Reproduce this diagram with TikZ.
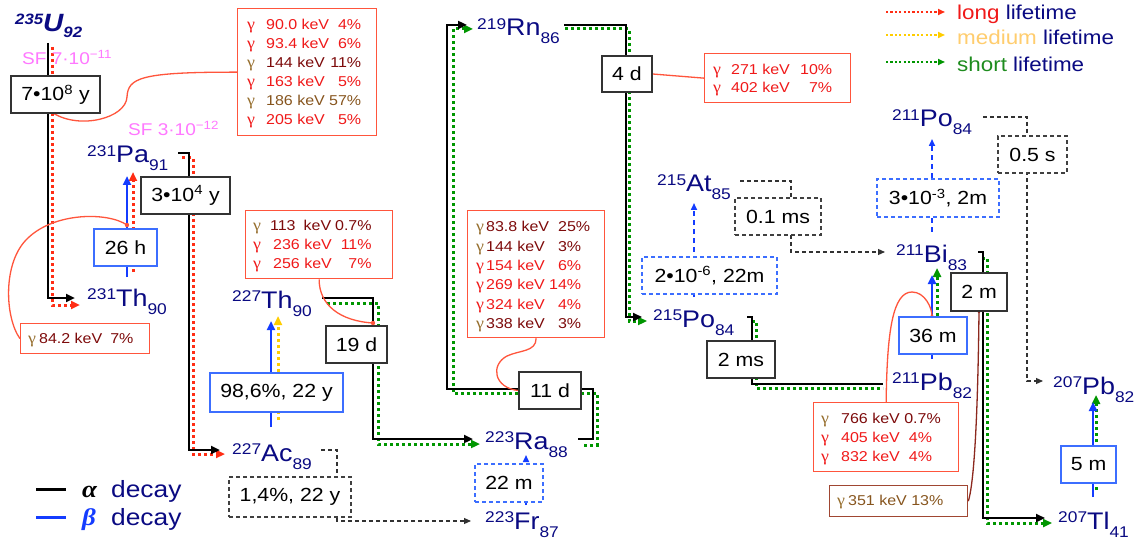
\documentclass[tikz,border=0pt]{standalone}
\usepackage{fontspec}
\setmainfont{Liberation Sans}[FakeStretch=1.12]
\newfontfamily\gfont{Liberation Serif}[FakeStretch=1.12]
\usetikzlibrary{arrows.meta}
\pgfdeclarelayer{bg}
\pgfdeclarelayer{mid}
\pgfsetlayers{bg,mid,main}

\definecolor{nblue}{RGB}{10,10,130}
\definecolor{lred}{RGB}{255,45,20}
\definecolor{lyel}{RGB}{255,205,0}
\definecolor{lgreen}{RGB}{0,150,0}
\definecolor{bblue}{RGB}{20,60,255}
\definecolor{boxblue}{RGB}{60,110,255}
\definecolor{gborder}{RGB}{255,85,60}
\definecolor{gred}{RGB}{240,25,25}
\definecolor{dred}{RGB}{125,10,10}
\definecolor{gbrown}{RGB}{150,110,45}
\definecolor{tbrown}{RGB}{135,85,30}
\definecolor{sfpink}{RGB}{255,120,255}
\definecolor{medorange}{RGB}{255,205,110}
\definecolor{sgreen}{RGB}{30,140,30}
\definecolor{bordbrown}{RGB}{160,70,50}
\definecolor{curvbrown}{RGB}{140,40,30}
\definecolor{dgray}{RGB}{50,50,50}

\newcommand\nucl[3]{\raisebox{6.5pt}{\fontsize{15.5}{16}\selectfont #1}\fontsize{24}{28}\selectfont #2\raisebox{-8pt}{\fontsize{15.5}{16}\selectfont #3}}
\newcommand\gam[1]{{\color{#1}\gfont\fontsize{16}{16}\selectfont γ}}
\newcommand\hf{\fontsize{19}{22}\selectfont}
\newcommand\gf{\fontsize{14.3}{19}\selectfont}

\tikzset{
 nuc/.style={anchor=base west, inner sep=0pt, text=nblue},
 hbox/.style={draw=black!80, line width=1.4pt, fill=white, inner sep=0pt, font=\hf},
 blbox/.style={hbox, draw=boxblue},
 dhbox/.style={hbox, draw=black!75, dash pattern=on 4pt off 3pt},
 dblbox/.style={hbox, draw=boxblue, dash pattern=on 4pt off 3pt},
 gbox/.style={draw=gborder, line width=1.3pt, fill=white, anchor=north west, inner sep=0pt},
 gtext/.style={anchor=base west, inner sep=0pt, font=\gf},
 alph/.style={line width=2.8pt, draw=black},
 tipbg/.style={-{Triangle[length=9pt,width=8pt]}},
 tipsm/.style={-{Triangle[length=7pt,width=6pt]}},
 lifet/.style={line width=3pt, dash pattern=on 3pt off 3pt},
 longl/.style={lifet, draw=lred},
 medl/.style={lifet, draw=lyel},
 shortl/.style={lifet, draw=lgreen},
 betal/.style={line width=2.8pt, draw=bblue},
 gdash/.style={line width=1.1pt, draw=dgray, dash pattern=on 4pt off 3pt},
 dbeta/.style={line width=1.6pt, draw=bblue, dash pattern=on 5pt off 4pt},
 gcurve/.style={line width=1.3pt, draw=gborder},
 lbl/.style={anchor=base west, inner sep=0pt},
}

\begin{document}
\begin{tikzpicture}[x=1pt,y=-1pt]
\useasboundingbox (0,0) rectangle (1143,540);

% ---------- nuclides ----------
\node[nuc, font=\bfseries\itshape] (U235) at (15,32) {\raisebox{7pt}{\fontsize{15}{16}\selectfont 235}\fontsize{25}{28}\selectfont U\raisebox{-6pt}{\fontsize{15}{16}\selectfont 92}};
\node[nuc] (Pa231) at (87,163) {\nucl{231}{Pa}{91}};
\node[nuc] (Th231) at (87,306) {\nucl{231}{Th}{90}};
\node[nuc] (Th227) at (232,308) {\nucl{227}{Th}{90}};
\node[nuc] (Ac227) at (232,461) {\nucl{227}{Ac}{89}};
\node[nuc] (Ra223) at (485,449) {\nucl{223}{Ra}{88}};
\node[nuc] (Fr223) at (485,529) {\nucl{223}{Fr}{87}};
\node[nuc] (Rn219) at (477,36) {\nucl{219}{Rn}{86}};
\node[nuc] (At215) at (657,192) {\nucl{215}{At}{85}};
\node[nuc] (Po215) at (653,327) {\nucl{215}{Po}{84}};
\node[nuc] (Pb211) at (892,390) {\nucl{211}{Pb}{82}};
\node[nuc] (Bi211) at (896,262) {\nucl{211}{Bi}{83}};
\node[nuc] (Po211) at (892,127) {\nucl{211}{Po}{84}};
\node[nuc] (Pb207) at (1053,394) {\nucl{207}{Pb}{82}};
\node[nuc] (Tl207) at (1058,529) {\nucl{207}{Tl}{41}};

% ---------- SF labels ----------
\node[lbl, text=sfpink, font=\fontsize{17}{20}\selectfont] (SF1) at (22,65) {SF 7·10\textsuperscript{−11}};
\node[lbl, text=sfpink, font=\fontsize{17}{20}\selectfont] (SF2) at (128,136) {SF 3·10\textsuperscript{−12}};

% ---------- half-life boxes ----------
\node[hbox, minimum width=89pt, minimum height=37pt] (hU) at (55.5,94.5) {7•10\textsuperscript{8} y};
\node[hbox, minimum width=89pt, minimum height=37pt] (hPa) at (185.5,195.5) {3•10\textsuperscript{4} y};
\node[blbox, minimum width=63pt, minimum height=37pt] (hTh231) at (125.5,247.5) {26 h};
\node[hbox, minimum width=61pt, minimum height=37pt] (hTh227) at (356.5,344.5) {19 d};
\node[blbox, minimum width=133pt, minimum height=39pt] (hAc) at (276.5,392.5) {98,6\%, 22 y};
\node[dhbox, minimum width=122pt, minimum height=40pt] (hAc2) at (290,497) {1,4\%, 22 y};
\node[hbox, minimum width=62pt, minimum height=37pt] (hRa) at (550,390.5) {11 d};
\node[dblbox, minimum width=68pt, minimum height=38pt] (hFr) at (509,483) {22 m};
\node[hbox, minimum width=50pt, minimum height=36pt] (hRn) at (627,74) {4 d};
\node[dhbox, minimum width=86pt, minimum height=37pt] (hAt) at (778,216.5) {0.1 ms};
\node[dblbox, minimum width=135pt, minimum height=37pt] (hPo215b) at (709.5,275.5) {2•10\textsuperscript{-6}, 22m};
\node[hbox, minimum width=68pt, minimum height=37pt] (hPo215) at (741,359.5) {2 ms};
\node[blbox, minimum width=68pt, minimum height=37pt] (hPb211) at (933,335.5) {36 m};
\node[hbox, minimum width=56pt, minimum height=38pt] (hBi) at (979,292) {2 m};
\node[dblbox, minimum width=122pt, minimum height=38pt] (hBib) at (938,198) {3•10\textsuperscript{-3}, 2m};
\node[dhbox, minimum width=69pt, minimum height=37pt] (hPo211) at (1032.5,154.5) {0.5 s};
\node[blbox, minimum width=55pt, minimum height=37pt] (hTl) at (1088.5,464.5) {5 m};

% ---------- gamma boxes ----------
\node[gbox, minimum width=139pt, minimum height=127pt] (G1) at (237,8) {};
\node[gtext] (G1t) at (247,30) {\begin{tabular}[t]{@{}l@{\hskip 11pt}p{63pt}@{}r@{}}
\gam{gred} & \textcolor{gred}{90.0 keV} & \textcolor{gred}{4\%} \\
\gam{gred} & \textcolor{gred}{93.4 keV} & \textcolor{gred}{6\%} \\
\gam{gbrown} & \textcolor{dred}{144 keV} & \textcolor{dred}{11\%} \\
\gam{gred} & \textcolor{gred}{163 keV} & \textcolor{gred}{5\%} \\
\gam{gbrown} & \textcolor{tbrown}{186 keV} & \textcolor{tbrown}{57\%} \\
\gam{gred} & \textcolor{gred}{205 keV} & \textcolor{gred}{5\%}
\end{tabular}};

\node[gbox, minimum width=129pt, minimum height=30pt] (G2) at (20,323) {};
\node[gtext] (G2t) at (28,343) {\gam{gbrown}\hskip 3pt\textcolor{dred}{84.2 keV\hskip 8pt 7\%}};

\node[gbox, minimum width=147pt, minimum height=68pt] (G3) at (245,210) {};
\node[gtext] (G3t) at (253,231) {\begin{tabular}[t]{@{}l@{\hskip 9pt}p{65pt}@{}r@{}}
\gam{gbrown} & \textcolor{dred}{113\hskip 8pt keV} & \textcolor{dred}{0.7\%} \\
\gam{gred} & \textcolor{gred}{\hskip 3pt 236 keV} & \textcolor{gred}{11\%} \\
\gam{gred} & \textcolor{gred}{\hskip 3pt 256 keV} & \textcolor{gred}{7\%}
\end{tabular}};

\node[gbox, minimum width=146pt, minimum height=49pt] (G4) at (704,53) {};
\node[gtext, font=\fontsize{14.3}{18}\selectfont] (G4t) at (713,75) {\begin{tabular}[t]{@{}l@{\hskip 10pt}p{69pt}@{}r@{}}
\gam{gred} & \textcolor{gred}{271 keV} & \textcolor{gred}{10\%} \\
\gam{gred} & \textcolor{gred}{402 keV} & \textcolor{gred}{7\%}
\end{tabular}};

\node[gbox, minimum width=137pt, minimum height=127pt] (G5) at (467,210) {};
\node[gtext, font=\fontsize{14.3}{19.3}\selectfont] (G5t) at (476,232) {\begin{tabular}[t]{@{}l@{\hskip 2pt}p{63pt}@{}r@{}}
\gam{gbrown} & \textcolor{dred}{83.8 keV} & \textcolor{dred}{25\%}\kern -9pt \\
\gam{gbrown} & \textcolor{dred}{144 keV} & \textcolor{dred}{3\%} \\
\gam{gred} & \textcolor{gred}{154 keV} & \textcolor{gred}{6\%} \\
\gam{gred} & \textcolor{gred}{269 keV} & \textcolor{gred}{14\%} \\
\gam{gred} & \textcolor{gred}{324 keV} & \textcolor{gred}{4\%} \\
\gam{gbrown} & \textcolor{dred}{338 keV} & \textcolor{dred}{3\%}
\end{tabular}};

\node[gbox, minimum width=145pt, minimum height=69pt] (G6) at (813,402) {};
\node[gtext] (G6t) at (821,423) {\begin{tabular}[t]{@{}l@{\hskip 12pt}l@{}}
\gam{gbrown} & \textcolor{dred}{766 keV 0.7\%} \\
\gam{gred} & \textcolor{gred}{405 keV\hskip 9pt 4\%} \\
\gam{gred} & \textcolor{gred}{832 keV\hskip 9pt 4\%}
\end{tabular}};

\node[gbox, draw=bordbrown, minimum width=138pt, minimum height=31pt] (G7) at (829,485) {};
\node[gtext] (G7t) at (837,505) {\gam{gbrown}\hskip 3pt\textcolor{tbrown}{351 keV 13\%}};

% ---------- legends ----------
\node[lbl, font=\fontsize{24}{28}\selectfont] (la) at (82,497) {\gfont\bfseries\itshape α};
\node[lbl, text=nblue, font=\fontsize{23.5}{28}\selectfont] (ld1) at (111,497) {decay};
\node[lbl, text=bblue, font=\fontsize{24}{28}\selectfont] (lb) at (82,525) {\gfont\bfseries\itshape β};
\node[lbl, text=nblue, font=\fontsize{23.5}{28}\selectfont] (ld2) at (111,525) {decay};
\coordinate (lA1) at (36,489); \coordinate (lA2) at (66,489);
\coordinate (lB1) at (36,517); \coordinate (lB2) at (66,517);

\node[lbl, font=\fontsize{20}{24}\selectfont] (ll) at (957,20) {\textcolor{gred}{long} \textcolor{nblue}{lifetime}};
\node[lbl, font=\fontsize{20}{24}\selectfont] (lm) at (957,45) {\textcolor{medorange}{medium} \textcolor{nblue}{lifetime}};
\node[lbl, font=\fontsize{20}{24}\selectfont] (ls) at (957,72) {\textcolor{sgreen}{short} \textcolor{nblue}{lifetime}};
\coordinate (lr1) at (886,12); \coordinate (lr2) at (945,12);
\coordinate (ly1) at (886,35); \coordinate (ly2) at (945,35);
\coordinate (lg1) at (886,62); \coordinate (lg2) at (945,62);

% ---------- connectors ----------
\begin{pgfonlayer}{bg}
\fill[white] (0,0) rectangle (1143,540);
% legend samples
\draw[alph, line width=3pt] (lA1) -- (lA2);
\draw[betal, line width=3pt] (lB1) -- (lB2);
\draw[longl, line width=2.2pt, dash pattern=on 2.2pt off 2.2pt, tipsm] (lr1) -- (lr2);
\draw[medl, line width=2.2pt, dash pattern=on 2.2pt off 2.2pt, tipsm] (ly1) -- (ly2);
\draw[shortl, line width=2.2pt, dash pattern=on 2.2pt off 2.2pt, tipsm] (lg1) -- (lg2);

% U-235 -> Th-231 (alpha)
\draw[longl, tipbg] (52,47) -- (52,305) -- (80,305);
\draw[alph, tipbg] (48,43) -- (48,298) -- (75,298);
% Th-231 -> Pa-231 (beta)
\draw[longl, tipbg] (133,272) -- (133,172);
\draw[betal, tipbg] (127,277) -- (127,176);
% Pa-231 -> Ac-227 (alpha)
\draw[longl, tipbg] (182,158) -- (193,158) -- (193,454) -- (225,454);
\draw[alph, tipbg] (178,153) -- (189,153) -- (189,450) -- (220,450);
% Ac-227 -> Th-227 (beta)
\draw[medl, tipbg] (278,420) -- (278,316);
\draw[betal, tipbg] (271,427) -- (271,321);
% Ac-227 -> Fr-223 (alpha branch)
\draw[gdash, tipsm] (321,450) -- (337,450) -- (337,521) -- (471,521);
% Fr-223 -> Ra-223 (beta)
\draw[dbeta, tipsm] (526,505) -- (526,455);
% Th-227 -> Ra-223 (alpha)
\draw[shortl, tipbg] (327,303) -- (378,303) -- (378,444) -- (480,444);
\draw[alph, tipbg] (322,298) -- (373,298) -- (373,439) -- (473,439);
% Ra-223 -> Rn-219 (alpha)
\draw[shortl, tipbg] (584,445) -- (597,445) -- (597,393) -- (453,393) -- (453,29) -- (473,29);
\draw[alph, tipbg] (578,439) -- (593,439) -- (593,389) -- (447,389) -- (447,25) -- (467,25);
% Rn-219 -> Po-215 (alpha)
\draw[shortl, tipbg] (565,29) -- (629,29) -- (629,321) -- (647,321);
\draw[alph, tipbg] (564,25) -- (626,25) -- (626,317) -- (642,317);
% Po-215 -> At-215 (beta)
\draw[dbeta, tipsm] (694,297) -- (694,203);
% At-215 -> Bi-211 (alpha)
\draw[gdash, tipsm] (740,181) -- (791,181) -- (791,252) -- (885,252);
% Po-215 -> Pb-211 (alpha)
\draw[shortl] (752,321) -- (756,321) -- (756,388) -- (883,388);
\draw[alph] (747,317) -- (752,317) -- (752,384) -- (883,384);
% Pb-211 -> Bi-211 (beta)
\draw[shortl, tipbg] (937,340) -- (937,268);
\draw[betal, tipbg] (932,359) -- (932,275);
% Bi-211 -> Po-211 (beta)
\draw[dbeta, tipsm] (932,232) -- (932,139);
% Po-211 -> Pb-207 (alpha)
\draw[gdash, tipsm] (983,117) -- (1027,117) -- (1027,381) -- (1043,381);
% Bi-211 -> Tl-207 (alpha)
\draw[shortl, tipbg] (982,258) -- (987,258) -- (987,523) -- (1052,523);
\draw[alph, tipbg] (978,252) -- (983,252) -- (983,518) -- (1045,518);
% Tl-207 -> Pb-207 (beta)
\draw[shortl, tipbg] (1096,490) -- (1096,395);
\draw[betal, tipbg] (1093,497) -- (1093,402);
\end{pgfonlayer}

\begin{pgfonlayer}{mid}
\draw[gcurve] (G1.west) .. controls (140,72) and (128,78) .. (127,97) .. controls (126,118) and (80,130) .. (53,113);
\draw[gcurve] (G2.west) .. controls (5,318) and (2,262) .. (28,238) .. controls (55,212) and (108,212) .. (127,225);
\fill[gborder] (127,225) circle (2.2pt);
\draw[gcurve] (G3.south) .. controls (319,305) and (340,321) .. (373,323);
\fill[gborder] (373,323) circle (2.2pt);
\draw[gcurve] (hRn.east) -- (G4.west);
\draw[gcurve] (G5.south) .. controls (536,352) and (520,350) .. (507,356) .. controls (490,365) and (494,388) .. (hRa.west);
\draw[gcurve] (G6.north) .. controls (887,330) and (893,292) .. (912,292) .. controls (925,292) and (932,308) .. (932,316);
\fill[gborder] (932,316) circle (1.6pt);
\draw[gcurve, draw=curvbrown] (G7.east) .. controls (975,480) and (978,400) .. (hBi.south);
\fill[curvbrown] (hBi.south) circle (1.6pt);
\end{pgfonlayer}
\end{tikzpicture}
\end{document}
